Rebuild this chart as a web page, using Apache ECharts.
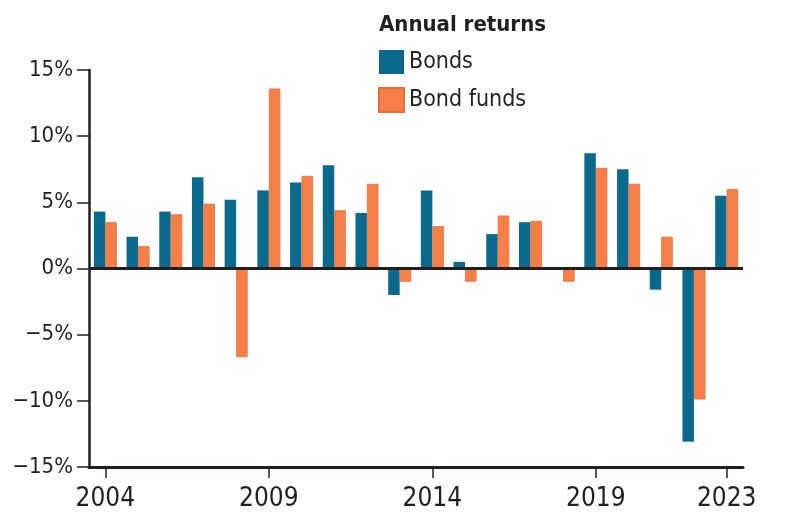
<!DOCTYPE html>
<html>
<head>
<meta charset="utf-8">
<script src="https://cdn.jsdelivr.net/npm/echarts@6/dist/echarts.min.js"></script>
<style>
html,body{margin:0;padding:0;background:#fff;}
#chart{width:800px;height:526px;}
</style>
</head>
<body>
<div id="chart"></div>
<script>
var years = ['2004','2005','2006','2007','2008','2009','2010','2011','2012','2013','2014','2015','2016','2017','2018','2019','2020','2021','2022','2023'];
var bonds = [4.3, 2.4, 4.3, 6.9, 5.2, 5.9, 6.5, 7.8, 4.2, -2.0, 5.9, 0.5, 2.6, 3.5, 0.0, 8.7, 7.5, -1.6, -13.1, 5.5];
var bondFunds = [3.5, 1.7, 4.1, 4.9, -6.7, 13.6, 7.0, 4.4, 6.4, -1.0, 3.2, -1.0, 4.0, 3.6, -1.0, 7.6, 6.4, 2.4, -9.9, 6.0];
var shownYears = ['2004','2009','2014','2019','2023'];
var yTicks = [-15, -10, -5, 0, 5, 10, 15];

var FONT = "'DejaVu Sans Condensed', 'Liberation Sans Narrow', Roboto, sans-serif";
var INK = '#231f20';
var chart = echarts.init(document.getElementById('chart'));
var showYear = function (i, v) { return shownYears.indexOf(years[i]) >= 0; };
chart.setOption({
  animation: false,
  textStyle: { fontFamily: FONT, color: INK },
  title: {
    text: 'Annual returns',
    left: 374, top: 9,
    textStyle: { fontFamily: FONT, fontWeight: 'bold', fontSize: 22, color: INK }
  },
  legend: {
    orient: 'vertical',
    left: 378, top: 50, padding: 0,
    itemWidth: 25, itemHeight: 24, itemGap: 13,
    icon: 'rect',
    textStyle: { fontFamily: FONT, fontSize: 23, color: INK, padding: [0, 0, 0, 0] },
    data: ['Bonds', 'Bond funds']
  },
  grid: { left: 89, right: 57, top: 70, bottom: 59, containLabel: false },
  xAxis: {
    type: 'category',
    data: years,
    boundaryGap: true,
    axisLine: { onZero: false, lineStyle: { color: INK, width: 3 } },
    axisTick: { show: true, alignWithLabel: true, interval: showYear, length: 11, lineStyle: { color: INK, width: 1.5 } },
    axisLabel: { interval: showYear, fontSize: 26, color: INK, margin: 19, fontFamily: FONT }
  },
  yAxis: {
    type: 'value',
    min: -15, max: 15, interval: 5,
    axisLine: { show: true, lineStyle: { color: INK, width: 2.5 } },
    axisTick: { show: true, length: 12, lineStyle: { color: INK, width: 1.5 } },
    splitLine: { show: false },
    axisLabel: {
      fontSize: 22, color: INK, margin: 16, fontFamily: FONT,
      formatter: function (v) { return (v < 0 ? '\u2212' + Math.abs(v) : v) + '%'; }
    }
  },
  series: [
    {
      name: 'Bonds', type: 'bar', data: bonds,
      barWidth: 11.5, barGap: '0%',
      itemStyle: { color: '#0a6a8e' },
      markLine: {
        silent: true, symbol: 'none', label: { show: false },
        lineStyle: { color: INK, width: 3, type: 'solid' },
        data: [{ yAxis: 0 }]
      }
    },
    {
      name: 'Bond funds', type: 'bar', data: bondFunds,
      barWidth: 11.5, barGap: '0%',
      itemStyle: { color: '#f57f47', borderColor: '#ea7038', borderWidth: 0.8 }
    }
  ]
});
</script>
</body>
</html>
